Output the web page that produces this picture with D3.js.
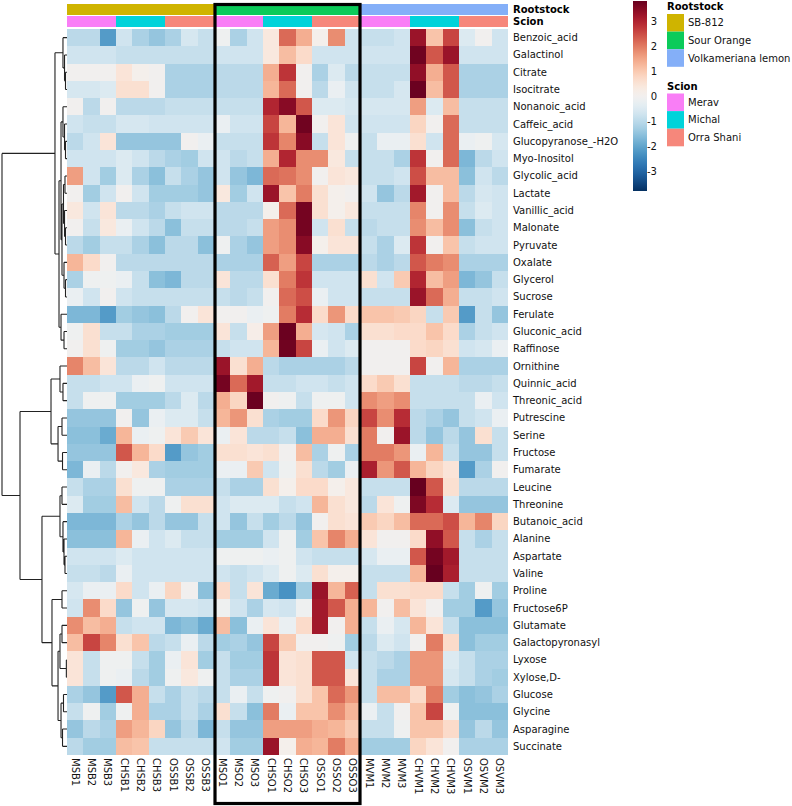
<!DOCTYPE html>
<html>
<head>
<meta charset="utf-8">
<script src="https://cdn.jsdelivr.net/npm/d3@7"></script>
<style>
  html, body { margin: 0; padding: 0; background: #fff; }
  svg { display: block; font-family: "DejaVu Sans", sans-serif; }
</style>
</head>
<body>
<svg id="chart" width="792" height="806"></svg>
<script>
const rows = ["Benzoic_acid","Galactinol","Citrate","Isocitrate","Nonanoic_acid","Caffeic_acid","Glucopyranose_-H2O","Myo-Inositol","Glycolic_acid","Lactate","Vanillic_acid","Malonate","Pyruvate","Oxalate","Glycerol","Sucrose","Ferulate","Gluconic_acid","Raffinose","Ornithine","Quinnic_acid","Threonic_acid","Putrescine","Serine","Fructose","Fumarate","Leucine","Threonine","Butanoic_acid","Alanine","Aspartate","Valine","Proline","Fructose6P","Glutamate","Galactopyronasyl","Lyxose","Xylose,D-","Glucose","Glycine","Asparagine","Succinate"];

const cols = ["MSB1","MSB2","MSB3","CHSB1","CHSB2","CHSB3","OSSB1","OSSB2","OSSB3","MSO1","MSO2","MSO3","CHSO1","CHSO2","CHSO3","OSSO1","OSSO2","OSSO3","MVM1","MVM2","MVM3","CHVM1","CHVM2","CHVM3","OSVM1","OSVM2","OSVM3"];

const rootstock = ["SB-812","SB-812","SB-812","SB-812","SB-812","SB-812","SB-812","SB-812","SB-812","Sour Orange","Sour Orange","Sour Orange","Sour Orange","Sour Orange","Sour Orange","Sour Orange","Sour Orange","Sour Orange","Volkameriana lemon","Volkameriana lemon","Volkameriana lemon","Volkameriana lemon","Volkameriana lemon","Volkameriana lemon","Volkameriana lemon","Volkameriana lemon","Volkameriana lemon"];
const scion = ["Merav","Merav","Merav","Michal","Michal","Michal","Orra Shani","Orra Shani","Orra Shani","Merav","Merav","Merav","Michal","Michal","Michal","Orra Shani","Orra Shani","Orra Shani","Merav","Merav","Merav","Michal","Michal","Michal","Orra Shani","Orra Shani","Orra Shani"];

const rootstockLevels = ["SB-812","Sour Orange","Volkameriana lemon"];
const rootstockColors = ["#CFB400","#0BCB5A","#84AFF8"];
const scionLevels = ["Merav","Michal","Orra Shani"];
const scionColors = ["#F97EF6","#00D3DA","#F6877B"];

const legendTicks = [3,2,1,0,-1,-2,-3];
const valueRange = [-3.8, 3.84];

const values = [
[-1.0,-1.0,-2.15,-0.7,-1.2,-1.45,-1.2,-0.6,-0.85,-0.1,-1.2,-0.7,0.4,2.2,1.4,0.1,1.8,-0.7,-0.85,-0.85,-0.7,3.3,1.1,2.6,-0.5,0,-0.7],
[-0.7,-0.7,-0.7,-0.85,-0.85,-0.85,-0.85,-0.85,-0.85,-0.7,-0.7,-0.7,0.4,1.2,0.7,-0.7,-0.7,-0.7,-0.7,-0.7,-0.7,3.75,2.4,3.3,-0.7,-0.7,-0.7],
[0,0,0,0.5,0.1,0,-1.2,-1.2,-1.2,-1.0,-1.0,-1.0,1.4,2.8,0,-1.2,-0.5,-1.0,-0.85,-0.85,-0.85,3.4,1.4,2.4,-1.2,-1.2,-1.2],
[-0.6,-0.6,-0.5,0.6,0.6,0,-1.2,-1.2,-1.2,-1.0,-1.0,-1.0,1.3,2.2,0,-1.0,-0.2,-0.7,-0.85,-0.85,-0.6,3.8,1.2,2.4,-1.2,-1.2,-1.2],
[0,-1.0,0,-1.0,-1.0,-1.0,-0.85,-0.85,-0.85,-0.85,-0.85,-0.85,3.0,3.5,2.4,-0.5,-0.5,-0.6,-0.6,-0.6,-0.6,1.6,-0.5,1.2,-0.85,-0.85,-0.85],
[-0.7,-0.85,-0.85,-0.6,-0.6,-0.7,-0.7,-0.7,-0.7,-0.2,-0.7,-0.7,2.6,1.3,3.75,0,0.5,-0.7,-0.7,-0.7,-0.7,0.8,0,2.2,-0.85,-0.85,-0.85],
[-1.0,-0.7,0.5,-1.45,-1.45,-1.45,-1.45,0,-0.2,-0.85,-0.85,-0.85,2.8,1.9,3.5,-0.85,0.5,-0.1,-0.85,-0.2,-0.2,0.6,-0.7,2.2,-0.2,-0.1,-0.6],
[-0.7,-0.7,-0.7,-0.5,-0.7,-1.0,-1.2,-1.3,-0.7,-0.7,-1.0,-0.85,1.4,3.0,1.8,1.8,0.4,-0.85,-0.85,-0.85,-1.2,2.8,0,2.2,-1.7,-1.0,-0.7],
[1.6,-0.7,-1.3,-0.5,-1.2,-1.55,-0.85,-1.2,-1.45,-0.7,-1.45,-1.7,2.2,2.1,1.8,0,0.5,0.4,-0.85,-0.85,-0.7,2.5,1.2,1.2,-1.55,-0.7,-1.0],
[0,-1.3,-0.7,0,-0.7,-1.3,-1.3,-1.3,-1.45,0.4,-1.3,-0.7,3.3,1.1,2.0,0.6,0.1,0,-0.7,-1.45,-1.0,3.2,0,1.2,-1.0,-0.6,-0.7],
[0.4,-0.7,0.5,-1.0,-1.0,-1.2,-0.85,-0.7,-0.7,-1.0,-1.0,-1.0,0.1,2.2,3.7,0.6,0.1,0.4,-0.85,-0.85,-0.85,1.9,0,1.8,-0.85,-0.5,-0.7],
[0,-0.85,0.4,-0.2,-0.7,-1.0,-1.55,-0.85,-0.85,-1.0,-1.0,-0.85,1.6,1.8,3.7,-0.7,0.6,-0.85,-1.0,-0.85,-0.85,1.8,1.2,1.8,-1.55,-0.85,-0.7],
[-1.0,-1.3,-0.85,-0.85,-1.2,-1.55,-1.0,-1.0,-1.55,-0.1,-1.2,-1.45,1.6,1.8,3.5,0.1,0.5,0.5,-0.85,-1.2,-0.5,2.8,0,1.1,-0.85,-0.7,-0.7],
[1.3,0.7,0,-1.0,-1.0,-1.0,-1.0,-1.0,-1.0,-1.2,-1.2,-1.2,2.3,1.6,2.6,-1.2,-1.2,-1.2,-1.0,-1.2,-1.0,2.4,2.0,1.8,-1.2,-1.2,-1.2],
[-1.2,-0.1,-0.1,-0.2,-0.85,-1.55,-1.7,-1.0,-1.0,0.5,-1.0,-1.0,0.6,2.0,2.8,-0.7,-0.7,-0.7,0.6,-0.7,1.0,3.0,1.2,1.6,-1.7,-1.45,-0.85],
[-0.2,-0.7,0,-0.7,-0.85,-0.85,-0.85,-0.85,-0.85,-0.85,-1.0,-0.85,0,2.2,2.5,-0.2,-0.7,-0.7,-0.85,-0.85,-0.85,3.3,2.2,1.4,-0.85,-0.85,-0.7],
[-1.7,-1.7,-2.15,-1.3,-1.45,-1.55,-1.0,0,0.5,0,0,-0.2,-0.1,2.0,2.9,0.7,1.7,0.7,1.1,1.1,1.0,0.8,-0.85,1.0,-2.15,-0.85,-1.45],
[-0.1,0.6,-0.85,-0.85,-1.2,-1.2,-1.3,-1.3,-1.3,0.5,-0.85,0.2,1.6,3.8,1.4,-0.6,-0.7,-1.2,0.6,0.6,0.7,0.7,1.1,0.7,-1.2,-0.85,-0.7],
[0,0.6,-0.1,-1.3,-1.3,-1.45,-1.2,-1.2,-1.2,-0.85,-0.7,-0.7,1.3,3.75,2.6,-0.2,-0.7,-0.5,0,0,0,0.7,0.8,0.6,-0.7,-0.6,-0.2],
[1.9,1.2,0.5,-1.0,-1.0,-0.7,-1.0,-1.0,-1.0,3.3,0.6,1.4,-1.0,-1.2,-1.2,-1.2,-1.2,-1.0,0,0,0,2.6,0,1.3,-1.2,-1.2,-1.2],
[-0.85,-0.85,-0.7,-0.7,-0.2,-0.1,-0.7,-0.7,-0.7,3.7,2.2,3.2,-0.85,-0.85,-0.7,-0.7,-0.85,-0.7,0.7,1.0,0.6,-0.85,-0.85,-0.85,-1.0,-1.0,-0.85],
[-0.85,-0.1,-0.1,-1.3,-1.3,-1.3,-1.0,-0.5,-1.0,1.4,0.8,3.8,0,-0.1,-0.85,-0.1,-0.1,-0.7,1.8,1.6,1.8,-0.85,-0.85,-0.85,-0.85,-0.2,-0.7],
[-1.45,-1.45,-1.45,0,-1.45,-0.2,-0.5,-0.5,-0.85,1.3,1.7,0.6,-1.2,-1.3,-1.3,0.7,1.7,0.8,2.6,1.8,2.9,-1.0,-1.2,-1.45,-0.85,-0.7,-0.2],
[-1.55,-1.55,-1.9,1.3,-0.2,-0.1,0.5,1.0,0.5,-0.2,0.5,-1.0,-1.0,-0.85,-1.55,1.4,1.4,0.6,2.0,0,3.3,-1.0,-1.45,-1.0,-1.45,0.6,-0.85],
[-1.45,-1.45,-1.45,2.4,1.3,0.7,-2.15,-1.45,-1.3,0.6,0.6,0.5,0.6,0,1.2,-1.2,-0.1,-1.2,2.0,2.0,1.7,-0.2,1.3,-0.85,-1.45,-1.45,-0.85],
[-1.7,-0.2,-1.0,0,0.4,-1.2,-1.3,-1.3,-1.3,-0.2,-0.2,1.0,-0.7,-0.1,0.6,-1.0,-1.3,-0.2,3.1,1.7,2.4,1.3,0.8,0.5,-2.15,-1.2,0],
[-0.85,-1.2,-1.2,0.6,-0.1,-0.1,-1.2,-1.2,-1.2,-0.85,-1.2,-1.2,0.6,0.1,0.7,0.7,0.1,0.4,-0.85,-0.85,-0.85,3.84,2.4,0.6,-1.0,-1.0,-1.0],
[-0.5,-1.3,-1.3,1.2,-0.7,-1.0,-0.1,0.6,0.6,-0.7,-0.5,-0.5,-0.5,-0.85,-0.7,1.3,0.6,0.4,-1.0,0.5,-0.1,3.6,2.9,-0.5,-1.45,-1.45,-1.45],
[-1.7,-1.7,-1.7,-1.2,-1.45,-1.0,-1.45,-1.45,-0.85,-0.7,-1.45,-0.85,-1.3,-1.0,-1.45,0,0.6,0.5,1.0,0.8,1.2,2.2,2.2,2.5,1.3,1.9,0.8],
[-1.55,-1.55,-1.55,1.3,-0.2,-0.7,-0.5,-0.85,-0.85,-1.3,-1.3,-1.3,-0.7,-0.1,-1.3,1.1,1.9,1.4,0.5,0,0,0.7,3.4,2.4,-0.85,-1.2,-0.85],
[-0.7,-0.7,-0.7,-0.5,-0.7,-0.7,-0.7,-0.7,-0.7,-0.1,-0.1,-0.1,-0.2,-0.1,-0.7,-0.85,-0.85,-0.85,-0.6,-0.2,-0.2,2.4,3.7,3.2,-0.85,-0.85,-0.85],
[-0.85,-0.85,-1.0,-0.2,-0.7,-0.7,-0.7,-0.7,-0.7,-0.7,-0.85,-0.7,-0.5,-0.1,-0.5,0.6,0.1,0.1,-0.85,-0.85,-0.85,1.3,3.84,3.1,-0.85,-0.85,-0.85],
[-0.6,-0.2,-0.2,0.7,-0.7,-0.2,0.8,0,-1.55,0.7,-0.85,0.5,-1.9,-2.3,-1.3,3.3,1.3,2.3,-0.85,0.6,0.6,0.7,0.7,-0.85,-1.3,-0.1,-1.3],
[-0.7,1.8,0.7,-1.45,-0.1,-1.45,-0.6,-0.6,-0.7,-0.1,-0.7,-1.2,-0.6,-0.7,-0.1,3.2,2.4,1.4,1.3,0,1.2,0.5,0,-1.3,-1.3,-2.15,-1.45],
[1.8,1.2,1.4,-0.85,-0.7,-0.7,-1.7,-1.55,-1.9,1.2,-1.55,-0.2,0.5,-0.2,0.7,3.2,0,1.4,-0.85,-0.2,-0.6,1.3,0.5,-0.85,-1.55,-1.55,-1.55],
[1.2,2.6,1.9,0.6,1.1,-1.0,-0.85,-0.2,-1.0,-1.3,-1.2,-1.45,2.6,1.0,0,0,-0.1,-1.3,-1.0,-0.5,-0.7,0,2.0,0.7,-1.55,-1.3,-1.3],
[0.5,-0.85,-0.1,-0.1,-0.85,-1.3,-0.2,0.5,-1.3,-0.85,-1.3,-1.3,2.8,0.5,0.6,2.4,2.4,-0.7,-0.85,-1.0,-1.2,1.7,1.7,-0.5,-0.85,-1.2,-1.2],
[0.5,-0.85,-0.1,-0.2,-1.0,-1.3,-0.1,0.4,-0.1,-0.85,-1.2,-1.2,2.8,0.5,0.6,2.4,2.4,0.5,-0.85,-1.2,-1.2,1.7,1.7,-0.6,-0.85,-1.2,-1.3],
[-1.2,-1.45,-2.15,2.4,1.4,-0.85,-1.2,-0.85,-1.0,-0.85,-0.2,-0.85,-0.1,0,0.6,1.1,2.2,1.7,-0.85,1.2,1.2,0.7,2.0,-1.3,-1.55,-1.45,-1.2],
[-0.85,-0.1,-1.3,-0.1,1.4,-1.2,-1.2,-0.85,-1.2,0.6,-0.85,-1.55,2.0,-0.2,1.1,1.1,1.8,1.3,-0.2,-0.85,0,1.1,2.6,-0.1,-1.55,-1.55,-1.55],
[-1.45,-1.0,-1.2,1.6,1.3,0.8,-1.45,-1.0,-1.7,-0.85,-1.45,-1.45,1.6,1.6,1.6,1.4,1.3,1.0,-0.85,-0.85,-0.1,1.1,1.1,0.7,-1.45,-1.0,-1.45],
[-1.0,-1.3,-1.3,1.2,1.1,-0.85,-0.85,-0.85,-0.85,-0.7,-1.3,-1.3,3.3,0.1,1.4,1.3,2.0,1.4,-1.3,-1.3,-1.3,0.8,0.5,0,-1.2,-1.2,-1.2]
];

// Row dendrogram: [mergeHeight, left, right]; leaves are row indices
const rowTree =
[10,
  [1.85,
    [0.62, 0, [0.38, 1, [0.23, 2, 3]]],
    [1.23,
      [0.92,
        [0.62, 4, [0.38, 5, [0.23, 6, 7]]],
        [0.77,
          [0.54, [0.31, 8, 9], [0.38, 10, [0.23, 11, 12]]],
          [0.46, 13, [0.23, 14, 15]]]],
      [0.92, 16, [0.46, 17, 18]]]],
  [7.23,
    [2.46,
      [1.08, 19, [0.62, 20, 21]],
      [1.38, [0.77, 22, 23], [0.69, 24, 25]]],
    [3.85,
      [1.08, [0.77, 26, 27], [0.62, 28, [0.46, 29, [0.31, 30, 31]]]],
      [2.31,
        [0.77, 32, 33],
        [1.38,
          [1.08, [0.77, 34, 35], [0.1, 36, 37]],
          [0.92, [0.54, 38, 39], [0.69, 40, 41]]]]]]];

const svg = d3.select("#chart");

const x = d3.scaleBand().domain(cols).range([67, 508]);
const y = d3.scaleBand().domain(rows).range([29, 755]);
const color = d3.scaleSequential(t => d3.interpolateRdBu(1 - t)).domain(valueRange);
const rsColor = d3.scaleOrdinal().domain(rootstockLevels).range(rootstockColors);
const scColor = d3.scaleOrdinal().domain(scionLevels).range(scionColors);

// Heatmap cells
const cells = [];
values.forEach((row, r) => row.forEach((v, c) => cells.push({r, c, v})));
svg.append("g").attr("shape-rendering", "crispEdges")
  .selectAll("rect").data(cells).join("rect")
  .attr("x", d => x(cols[d.c]))
  .attr("y", d => y(rows[d.r]))
  .attr("width", x.bandwidth() + 0.4)
  .attr("height", y.bandwidth() + 0.4)
  .attr("fill", d => color(d.v));

// Column annotations
const ann = svg.append("g").attr("shape-rendering", "crispEdges");
ann.selectAll(".rs").data(cols).join("rect")
  .attr("x", d => x(d)).attr("y", 3.5)
  .attr("width", x.bandwidth() + 0.4).attr("height", 11)
  .attr("fill", (d, i) => rsColor(rootstock[i]));
ann.selectAll(".sc").data(cols).join("rect")
  .attr("x", d => x(d)).attr("y", 15.5)
  .attr("width", x.bandwidth() + 0.4).attr("height", 11)
  .attr("fill", (d, i) => scColor(scion[i]));

svg.append("text").attr("x", 513).attr("y", 9).attr("dominant-baseline", "central")
  .attr("font-size", 10).attr("font-weight", "bold").text("Rootstock");
svg.append("text").attr("x", 513).attr("y", 21).attr("dominant-baseline", "central")
  .attr("font-size", 10).attr("font-weight", "bold").text("Scion");

// Row labels
svg.append("g").selectAll("text").data(rows).join("text")
  .attr("x", 513)
  .attr("y", d => y(d) + y.bandwidth() / 2)
  .attr("dominant-baseline", "central")
  .attr("font-size", 10)
  .attr("fill", "#111")
  .text(d => d);

// Column labels
svg.append("g").selectAll("text").data(cols).join("text")
  .attr("transform", d => `translate(${x(d) + x.bandwidth() / 2},758) rotate(90)`)
  .attr("dominant-baseline", "central")
  .attr("font-size", 10)
  .attr("fill", "#111")
  .text(d => d);

// Dendrogram
const hx = d3.scaleLinear().domain([0, 10]).range([67, 2]);
const segs = [];
function layout(node) {
  if (typeof node === "number") {
    return {x: hx(0), y: y(rows[node]) + y.bandwidth() / 2};
  }
  const [h, l, r] = node;
  const a = layout(l), b = layout(r);
  const px = hx(h);
  segs.push(`M${a.x},${a.y}H${px}`);
  segs.push(`M${b.x},${b.y}H${px}`);
  segs.push(`M${px},${a.y}V${b.y}`);
  return {x: px, y: (a.y + b.y) / 2};
}
layout(rowTree);
svg.append("path").attr("d", segs.join(""))
  .attr("fill", "none").attr("stroke", "#222").attr("stroke-width", 1.1);

// Highlight box around Sour Orange columns
const soCols = cols.filter((c, i) => rootstock[i] === "Sour Orange");
const bx0 = x(soCols[0]) + 1, bx1 = x(soCols[soCols.length - 1]) + x.bandwidth() - 1;
svg.append("rect")
  .attr("x", bx0).attr("y", 4.5)
  .attr("width", bx1 - bx0).attr("height", 799)
  .attr("fill", "none").attr("stroke", "#000").attr("stroke-width", 3.2);

// Color legend
const ly = d3.scaleLinear().domain(valueRange).range([191, 1]);
const defs = svg.append("defs");
const grad = defs.append("linearGradient").attr("id", "cbar")
  .attr("x1", 0).attr("y1", 0).attr("x2", 0).attr("y2", 1);
d3.range(0, 41).forEach(i => {
  const t = i / 40;
  grad.append("stop").attr("offset", t)
    .attr("stop-color", color(valueRange[1] - t * (valueRange[1] - valueRange[0])));
});
svg.append("rect").attr("x", 633).attr("y", ly(valueRange[1]))
  .attr("width", 14).attr("height", ly(valueRange[0]) - ly(valueRange[1]))
  .attr("fill", "url(#cbar)");
svg.append("g").selectAll("text").data(legendTicks).join("text")
  .attr("x", 657).attr("y", d => ly(d))
  .attr("text-anchor", "end").attr("dominant-baseline", "central")
  .attr("font-size", 10).attr("fill", "#111")
  .text(d => d);

// Annotation legends
function annLegend(title, levels, scale, top) {
  const g = svg.append("g");
  g.append("text").attr("x", 667).attr("y", top).attr("dominant-baseline", "central")
    .attr("font-size", 10).attr("font-weight", "bold").text(title);
  const sy = d3.scaleBand().domain(levels).range([top + 7.5, top + 7.5 + 17.6 * levels.length]);
  g.selectAll("rect").data(levels).join("rect")
    .attr("x", 667).attr("y", d => sy(d)).attr("width", 17).attr("height", sy.bandwidth())
    .attr("fill", d => scale(d));
  g.selectAll(".lt").data(levels).join("text")
    .attr("x", 688).attr("y", d => sy(d) + sy.bandwidth() / 2)
    .attr("dominant-baseline", "central").attr("font-size", 10).attr("fill", "#111")
    .text(d => d);
}
annLegend("Rootstock", rootstockLevels, rsColor, 6.5);
annLegend("Scion", scionLevels, scColor, 86);
</script>
</body>
</html>
